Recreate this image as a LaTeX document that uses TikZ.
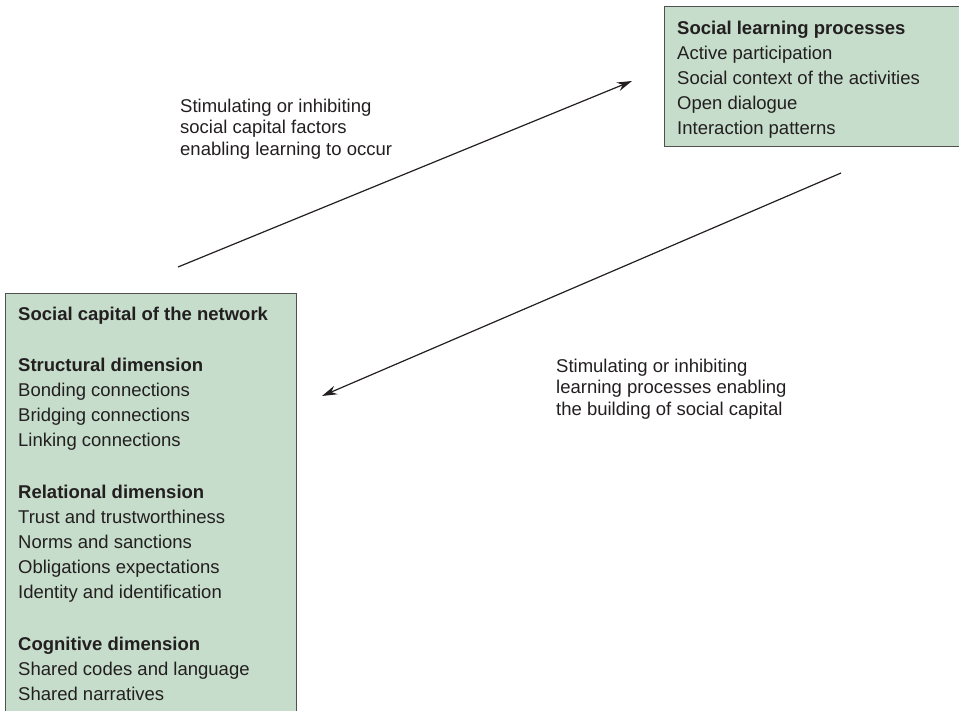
\documentclass[tikz,border=0pt]{standalone}
\usepackage{fontspec}
\setmainfont{Liberation Sans}
\usetikzlibrary{arrows.meta}

\definecolor{panelgreen}{HTML}{C5DDCA}
\definecolor{panelline}{HTML}{505050}
\definecolor{inkgray}{HTML}{231F20}

\begin{document}
\begin{tikzpicture}[x=1pt,y=-1pt,
    panel/.style={draw=panelline, line width=1.3pt, fill=panelgreen,
      anchor=north west, inner sep=0pt},
    listtext/.style={anchor=north west, inner sep=0pt, align=left,
      text=inkgray, font=\fontsize{18.5}{25}\selectfont},
    notetext/.style={anchor=north west, inner sep=0pt, align=left,
      text=inkgray, font=\fontsize{18.5}{21.5}\selectfont},
    link/.style={draw=inkgray, line width=1.2pt,
      -{Stealth[length=15pt,width=9pt]}}]
    \clip (0,0) rectangle (959,710);
    % the two boxes
    \node[panel, minimum width=320pt, minimum height=140pt] (learning) at (664,6) {};
    \node[panel, minimum width=291pt, minimum height=440pt] (capital) at (5,292.5) {};
    \node[listtext] (learntext) at (677,20.8) {\textbf{Social learning processes}\\
      Active participation\\
      Social context of the activities\\
      Open dialogue\\
      Interaction patterns};
    \node[listtext] (capitaltext) at (18,306.8) {\textbf{Social capital of the network}\\[26pt]
      \textbf{Structural dimension}\\
      Bonding connections\\
      Bridging connections\\
      Linking connections\\[27pt]
      \textbf{Relational dimension}\\
      Trust and trustworthiness\\
      Norms and sanctions\\
      Obligations expectations\\
      Identity and identification\\[27pt]
      \textbf{Cognitive dimension}\\
      Shared codes and language\\
      Shared narratives};
    % arrows between them
    \coordinate (upfrom) at (178,267);
    \coordinate (upto) at (632,81);
    \coordinate (downfrom) at (841,173);
    \coordinate (downto) at (322,396);
    \draw[link] (upfrom) -- (upto);
    \draw[link] (downfrom) -- (downto);
    \node[notetext] (upnote) at (180,98.8) {Stimulating or inhibiting\\
      social capital factors\\
      enabling learning to occur};
    \node[notetext] (downnote) at (556,358.8) {Stimulating or inhibiting\\
      learning processes enabling\\
      the building of social capital};
\end{tikzpicture}
\end{document}
